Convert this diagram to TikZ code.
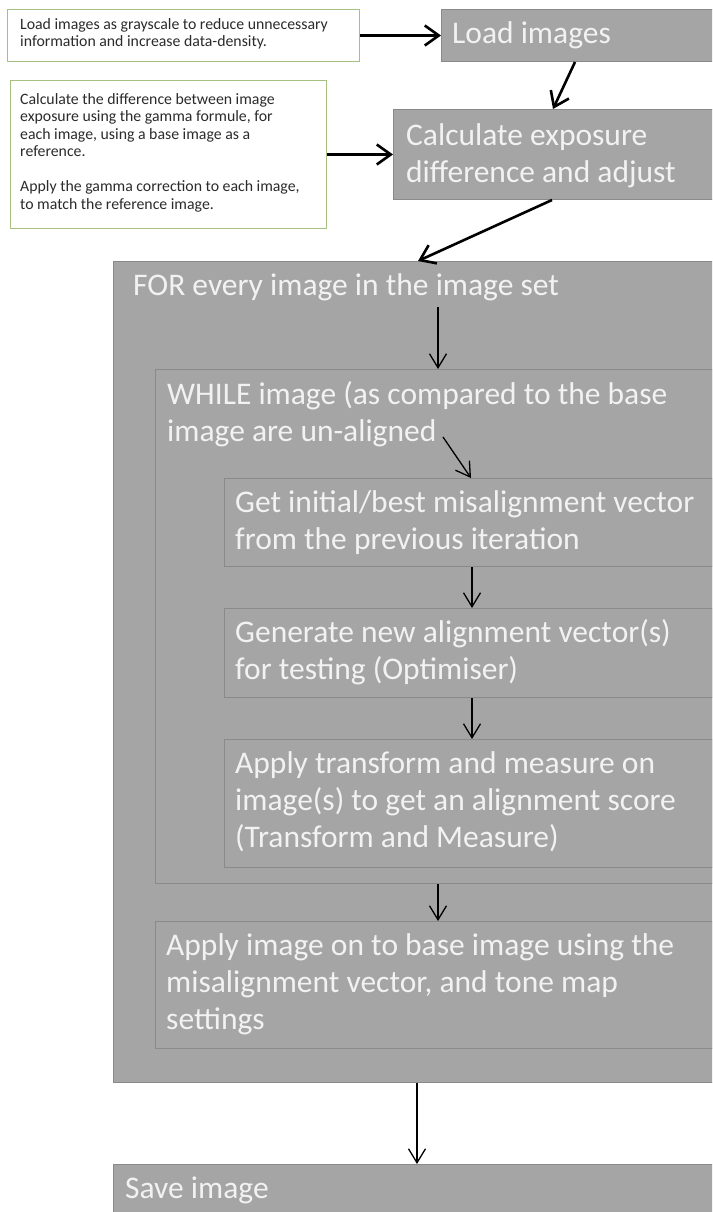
\documentclass[tikz,border=0pt]{standalone}
\usepackage{fontspec}
\setmainfont{Carlito}
\usetikzlibrary{arrows.meta,calc}
\definecolor{boxfill}{HTML}{A5A5A5}
\definecolor{boxline}{HTML}{8A8A8A}
\definecolor{boxtext}{HTML}{F2F2F2}
\definecolor{noteline}{HTML}{A6C080}
\definecolor{notetext}{HTML}{2B2B2B}
\newcommand\bigstrut{\rule{0pt}{25pt}}
\newcommand\notestrut{\rule{0pt}{12pt}}
\begin{document}
\begin{tikzpicture}[x=1pt,y=-1pt,
  graybox/.style={draw=boxline, fill=boxfill, line width=1pt, anchor=north west, inner sep=0pt},
  notebox/.style={draw=noteline, fill=white, line width=1pt, anchor=north west, inner sep=0pt},
  bigtxt/.style={anchor=north west, inner sep=0pt, text=boxtext, align=left, font=\fontsize{31.5pt}{37pt}\selectfont},
  notetxt/.style={anchor=north west, inner sep=0pt, text=notetext, align=left, font=\fontsize{15.8pt}{17.5pt}\selectfont},
  bigarrow/.style={draw=black, line width=2.6pt, -{Straight Barb[length=14pt,width=20pt]}},
  thinarrow/.style={draw=black, line width=1.3pt, -{Straight Barb[length=14pt,width=17pt]}}
]
\fill[white] (0,0) rectangle (712,1212);
\clip (0,0) rectangle (712,1212);

% boxes
\node[notebox, minimum width=352pt, minimum height=52pt] (note1) at (7,9) {};
\node[notebox, minimum width=316pt, minimum height=148pt] (note2) at (10,80) {};
\node[graybox, minimum width=290pt, minimum height=52pt] (load) at (441,9) {};
\node[graybox, minimum width=338pt, minimum height=90pt] (calc) at (393,109) {};
\node[graybox, minimum width=618pt, minimum height=821pt] (forbox) at (113,261) {};
\node[graybox, minimum width=576pt, minimum height=514pt] (whilebox) at (155,369) {};
\node[graybox, minimum width=507pt, minimum height=88pt] (getbox) at (224,478) {};
\node[graybox, minimum width=507pt, minimum height=89pt] (genbox) at (224,608) {};
\node[graybox, minimum width=507pt, minimum height=128pt] (trbox) at (224,739) {};
\node[graybox, minimum width=576pt, minimum height=127pt] (applybox) at (155,921) {};
\node[graybox, minimum width=618pt, minimum height=80pt] (savebox) at (113,1164) {};

% texts
\node[notetxt] (note1txt) at (20,17) {\notestrut Load images as grayscale to reduce unnecessary\\information and increase data-density.};
\node[notetxt] (note2txt) at (20,92) {\notestrut Calculate the difference between image\\exposure using the gamma formule, for\\each image, using a base image as a\\reference.\\[17.5pt]Apply the gamma correction to each image,\\to match the reference image.};
\node[bigtxt] (loadtxt) at (452,18) {\bigstrut Load images};
\node[bigtxt] (calctxt) at (406,120) {\bigstrut Calculate exposure\\difference and adjust};
\node[bigtxt] (fortxt) at (133,270) {\bigstrut FOR every image in the image set};
\node[bigtxt] (whiletxt) at (167,379) {\bigstrut WHILE image (as compared to the base\\image are un-aligned};
\node[bigtxt] (gettxt) at (235,487) {\bigstrut Get initial/best misalignment vector\\from the previous iteration};
\node[bigtxt] (gentxt) at (235,617) {\bigstrut Generate new alignment vector(s)\\for testing (Optimiser)};
\node[bigtxt] (trtxt) at (235,748) {\bigstrut Apply transform and measure on\\image(s) to get an alignment score\\(Transform and Measure)};
\node[bigtxt] (applytxt) at (166,930) {\bigstrut Apply image on to base image using the\\misalignment vector, and tone map\\settings};
\node[bigtxt] (savetxt) at (125,1173) {\bigstrut Save image};

% connectors
\draw[bigarrow] (note1.east) -- (load.west);
\draw[bigarrow] (note2.east) -- (calc.west);
\draw[bigarrow] ([xshift=134pt]load.south west) -- ([xshift=160pt]calc.north west);
\draw[bigarrow] ([xshift=159pt]calc.south west) -- ([xshift=305pt]forbox.north west);
\draw[thinarrow] ([xshift=325pt,yshift=-46pt]forbox.north west) -- ([xshift=283pt]whilebox.north west);
\draw[thinarrow] ([xshift=288pt,yshift=-68pt]whilebox.north west) -- ([xshift=247pt]getbox.north west);
\draw[thinarrow] ([xshift=248pt]getbox.south west) -- ([xshift=248pt]genbox.north west);
\draw[thinarrow] ([xshift=248pt]genbox.south west) -- ([xshift=248pt]trbox.north west);
\draw[thinarrow] ([xshift=283pt]whilebox.south west) -- ([xshift=283pt]applybox.north west);
\draw[thinarrow] ([xshift=304pt]forbox.south west) -- ([xshift=304pt]savebox.north west);
\end{tikzpicture}
\end{document}
